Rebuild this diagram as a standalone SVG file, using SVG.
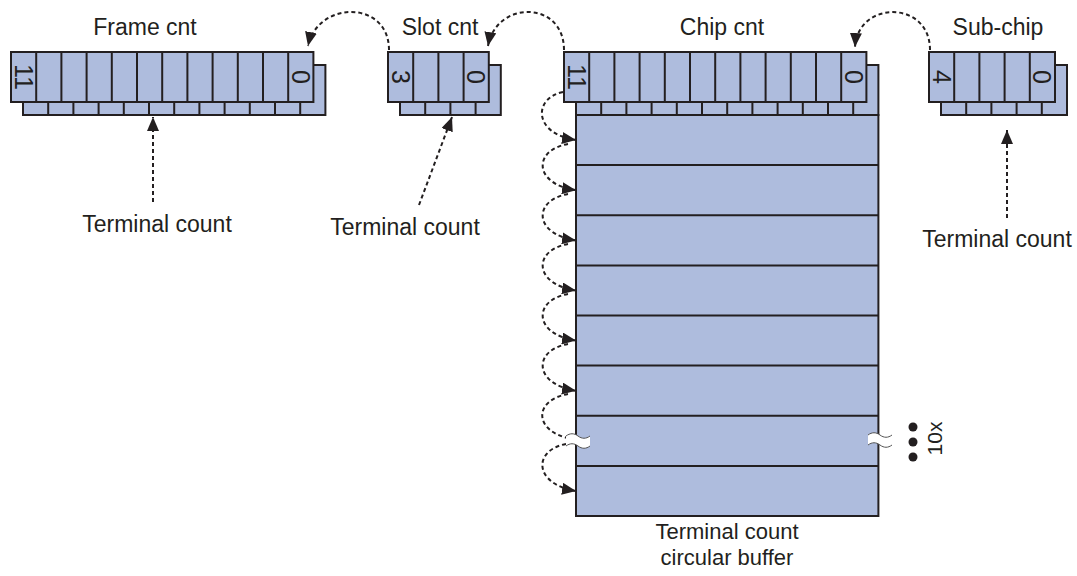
<svg xmlns="http://www.w3.org/2000/svg" width="1077" height="576" viewBox="0 0 1077 576">
<style>
.reg{fill:#aebcdd;stroke:#231f20;stroke-width:2}
.div{stroke:#231f20;stroke-width:2;fill:none}
.lbl{font-family:"Liberation Sans",Arial,sans-serif;font-size:23px;fill:#231f20;text-anchor:middle}
.dig{font-family:"Liberation Sans",Arial,sans-serif;font-size:25px;fill:#231f20;text-anchor:middle}
.dash{fill:none;stroke:#231f20;stroke-width:2;stroke-dasharray:4 3}
.brk{fill:#fff;stroke:none}
.brkl{fill:none;stroke:#555;stroke-width:1}
</style>
<defs>
<marker id="ah" viewBox="0 0 14 12" refX="14" refY="6" markerWidth="14" markerHeight="12" markerUnits="userSpaceOnUse" orient="auto"><path d="M0 0 L14 6 L0 12 z" fill="#231f20"/></marker>
</defs>

<g id="frame-cnt">
<text class="lbl" x="145" y="35">Frame cnt</text>
<rect class="reg" x="23" y="65" width="302.4" height="50"/>
<path class="div" d="M48.2 102V115M73.4 102V115M98.6 102V115M123.8 102V115M149 102V115M174.2 102V115M199.4 102V115M224.6 102V115M249.8 102V115M275 102V115M300.2 102V115"/>
<rect class="reg" x="11" y="52" width="302.4" height="50"/>
<path class="div" d="M36.2 52V102M61.4 52V102M86.6 52V102M111.8 52V102M137 52V102M162.2 52V102M187.4 52V102M212.6 52V102M237.8 52V102M263 52V102M288.2 52V102"/>
<text class="dig" transform="translate(23.6 77) rotate(90)" y="9">11</text>
<text class="dig" transform="translate(300.8 77) rotate(90)" y="9">0</text>
</g>

<g id="slot-cnt">
<text class="lbl" x="440" y="35">Slot cnt</text>
<rect class="reg" x="400" y="65" width="100.8" height="50"/>
<path class="div" d="M425.2 102V115M450.4 102V115M475.6 102V115"/>
<rect class="reg" x="388" y="52" width="100.8" height="50"/>
<path class="div" d="M413.2 52V102M438.4 52V102M463.6 52V102"/>
<text class="dig" transform="translate(400.6 77) rotate(90)" y="9">3</text>
<text class="dig" transform="translate(476.2 77) rotate(90)" y="9">0</text>
</g>

<g id="chip-cnt">
<text class="lbl" x="722" y="35">Chip cnt</text>
<rect class="reg" x="576" y="65" width="302.4" height="50"/>
<path class="div" d="M601.2 102V115M626.4 102V115M651.6 102V115M676.8 102V115M702 102V115M727.2 102V115M752.4 102V115M777.6 102V115M802.8 102V115M828 102V115M853.2 102V115"/>
<rect class="reg" x="564" y="52" width="302.4" height="50"/>
<path class="div" d="M589.2 52V102M614.4 52V102M639.6 52V102M664.8 52V102M690 52V102M715.2 52V102M740.4 52V102M765.6 52V102M790.8 52V102M816 52V102M841.2 52V102"/>
<text class="dig" transform="translate(576.6 77) rotate(90)" y="9">11</text>
<text class="dig" transform="translate(853.8 77) rotate(90)" y="9">0</text>
</g>

<g id="sub-chip">
<text class="lbl" x="998" y="35">Sub-chip</text>
<rect class="reg" x="941" y="65" width="126" height="50"/>
<path class="div" d="M966.2 102V115M991.4 102V115M1016.6 102V115M1041.8 102V115"/>
<rect class="reg" x="929" y="52" width="126" height="50"/>
<path class="div" d="M954.2 52V102M979.4 52V102M1004.6 52V102M1029.8 52V102"/>
<text class="dig" transform="translate(941.6 77) rotate(90)" y="9">4</text>
<text class="dig" transform="translate(1042.4 77) rotate(90)" y="9">0</text>
</g>

<g id="circular-buffer">
<rect class="reg" x="576" y="115" width="302.4" height="401"/>
<path class="div" d="M576 165.1H878.4M576 215.3H878.4M576 265.4H878.4M576 315.5H878.4M576 365.6H878.4M576 415.8H878.4M576 465.9H878.4"/>
<text class="lbl" x="727" y="539" style="font-size:22px">Terminal count</text>
<text class="lbl" x="727" y="565" style="font-size:22px">circular buffer</text>
</g>

<g id="connectors">
<path class="dash" d="M389 50 C389 0 318 0 308 46" marker-end="url(#ah)"/>
<path class="dash" d="M564 50 C564 0 496 0 488 46" marker-end="url(#ah)"/>
<path class="dash" d="M930 50 C930 0 858 0 855 47" marker-end="url(#ah)"/>
<path class="dash" d="M153 202 L153 117" marker-end="url(#ah)"/>
<path class="dash" d="M419 205 L452 117" marker-end="url(#ah)"/>
<path class="dash" d="M1007 218 L1007 130" marker-end="url(#ah)"/>
<path class="dash" d="M563 92 C533 98 533 134 576 140" marker-end="url(#ah)"/>
<path class="dash" d="M568 144 C533 150 533 184 576 190.2" marker-end="url(#ah)"/>
<path class="dash" d="M568 194 C533 200 533 234 576 240.4" marker-end="url(#ah)"/>
<path class="dash" d="M568 244 C533 250 533 284 576 290.5" marker-end="url(#ah)"/>
<path class="dash" d="M568 294 C533 300 533 334 576 340.6" marker-end="url(#ah)"/>
<path class="dash" d="M568 344 C533 350 533 384 576 390.7" marker-end="url(#ah)"/>
<path class="dash" d="M568 394 C533 400 533 432 572 439"/>
<path class="dash" d="M566 444 C533 450 533 484 576 491" marker-end="url(#ah)"/>
</g>

<g id="breaks">
<path class="brk" d="M566 436 C570 433 574 433 578 436 S586 439 590 436 L590 446 C586 449 582 449 578 446 S570 443 566 446 Z"/>
<path class="brkl" d="M566 436 C570 433 574 433 578 436 S586 439 590 436 M566 446 C570 443 574 443 578 446 S586 449 590 446"/>
<path class="brk" d="M868 435 C872 432 876 432 880 435 S888 438 892 435 L892 445 C888 448 884 448 880 445 S872 442 868 445 Z"/>
<path class="brkl" d="M868 435 C872 432 876 432 880 435 S888 438 892 435 M868 445 C872 442 876 442 880 445 S888 448 892 445"/>
<circle cx="913" cy="427" r="4.5" fill="#231f20"/>
<circle cx="913" cy="442" r="4.5" fill="#231f20"/>
<circle cx="913" cy="457" r="4.5" fill="#231f20"/>
<text class="lbl" transform="translate(935 438.5) rotate(-90)" y="7" style="font-size:21px">10x</text>
</g>

<g id="terminal-labels">
<text class="lbl" x="157" y="232">Terminal count</text>
<text class="lbl" x="405" y="235">Terminal count</text>
<text class="lbl" x="997" y="247">Terminal count</text>
</g>
</svg>
